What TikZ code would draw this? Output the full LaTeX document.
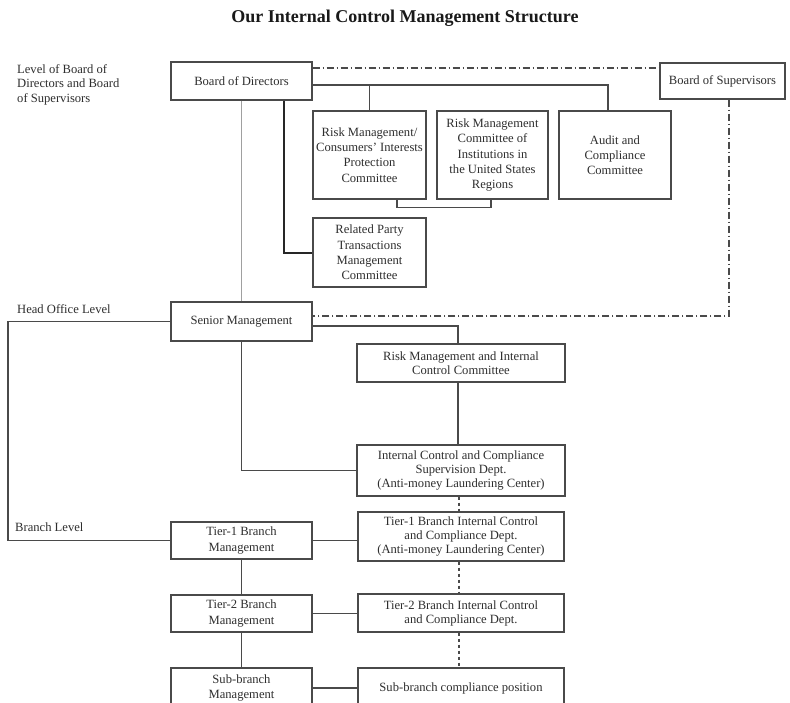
\documentclass[tikz,border=0pt]{standalone}
\usepackage{fontspec}
\setmainfont{Liberation Serif}
\definecolor{linec}{HTML}{4A4A4A}
\definecolor{textc}{HTML}{2E2E2E}
\definecolor{lightline}{HTML}{A0A0A0}
\tikzset{
  box/.style={draw=linec, line width=1.2pt, fill=white, align=center, inner sep=0pt,
    text=textc, font=\fontsize{12.6}{15.3}\selectfont},
  tightbox/.style={box, font=\fontsize{12.6}{14}\selectfont},
  conn/.style={draw=linec, line width=1.25pt},
  thickconn/.style={draw=black!85, line width=2pt},
  greyconn/.style={draw=lightline, line width=1.2pt},
  dashdotconn/.style={draw=linec, line width=1.2pt, dash pattern=on 7.5pt off 2.5pt on 1.5pt off 2.5pt},
  dashedconn/.style={draw=linec, line width=1.2pt, dash pattern=on 3pt off 3pt},
  lab/.style={text=textc, inner sep=0pt, align=left, font=\fontsize{12.6}{14.5}\selectfont},
  ttl/.style={text=black!90, inner sep=0pt, font=\bfseries\fontsize{18}{20}\selectfont}
}
\begin{document}
\begin{tikzpicture}[x=1pt,y=-1pt]
\clip (0,0) rectangle (790,702);
\fill[white] (0,0) rectangle (790,702);

\node[ttl] (title) at (405,18) {Our Internal Control Management Structure};

\node[lab, anchor=north west] (lvl) at (17,64) {Level of Board of\\Directors and Board\\of Supervisors};
\node[lab, anchor=west] (hol) at (17,309) {Head Office Level};
\node[lab, anchor=west] (brl) at (15,527) {Branch Level};

\node[box, minimum width=141pt, minimum height=38pt] (bod) at (241.5,81) {Board of Directors};
\node[box, minimum width=125pt, minimum height=36pt] (bos) at (722.5,81) {Board of Supervisors};
\node[box, minimum width=113pt, minimum height=88pt] (rmc) at (369.5,155) {Risk Management/\\Consumers’ Interests\\Protection\\Committee};
\node[box, minimum width=111pt, minimum height=88pt] (rmus) at (492.5,155) {Risk Management\\Committee of\\Institutions in\\the United States\\Regions};
\node[box, minimum width=112pt, minimum height=88pt] (audit) at (615,155) {Audit and\\Compliance\\Committee};
\node[box, minimum width=113pt, minimum height=69pt] (rpt) at (369.5,252.5) {Related Party\\Transactions\\Management\\Committee};
\node[box, minimum width=141pt, minimum height=39pt] (sm) at (241.5,321.5) {Senior Management};
\node[tightbox, minimum width=208pt, minimum height=38pt] (rmic) at (461,363) {Risk Management and Internal\\Control Committee};
\node[tightbox, minimum width=208pt, minimum height=51pt] (icsd) at (461,470.5) {Internal Control and Compliance\\Supervision Dept.\\(Anti-money Laundering Center)};
\node[box, minimum width=141pt, minimum height=37pt] (t1) at (241.5,540.5) {Tier-1 Branch\\Management};
\node[tightbox, minimum width=206pt, minimum height=49pt] (t1ic) at (461,536.5) {Tier-1 Branch Internal Control\\and Compliance Dept.\\(Anti-money Laundering Center)};
\node[box, minimum width=141pt, minimum height=37pt] (t2) at (241.5,613.5) {Tier-2 Branch\\Management};
\node[tightbox, minimum width=206pt, minimum height=38pt] (t2ic) at (461,613) {Tier-2 Branch Internal Control\\and Compliance Dept.};
\node[box, minimum width=141pt, minimum height=40pt] (sb) at (241.5,688) {Sub-branch\\Management};
\node[box, minimum width=206pt, minimum height=40pt] (sbc) at (461,688) {Sub-branch compliance position};

% Board level connectors
\draw[dashdotconn] (bod.east |- 0,68) -- (bos.west |- 0,68);
\draw[dashdotconn] (bos.south -| 729,0) |- (sm.east |- 0,316);
\draw[conn] (bod.east |- 0,85) -| (audit.north -| 608,0);
\draw[conn] (rmc.north |- 0,85) -- (rmc.north);
\draw[conn] (rmc.south -| 397,0) -- ++(0,8) -| (rmus.south -| 491,0);
\draw[thickconn] (bod.south -| 284,0) |- (rpt.west);
\draw[greyconn] (bod.south) -- (sm.north);

% Head office
\draw[conn] (sm.east |- 0,326) -| (rmic.north -| 458,0);
\draw[conn] (rmic.south -| 458,0) -- (icsd.north -| 458,0);
\draw[conn] (sm.south) |- (icsd.west);
\draw[conn] (sm.west) -| (8,430) |- (t1.west);

% Branch
\draw[conn] (t1.east) -- (t1ic.west |- t1.east);
\draw[conn] (t1.south) -- (t2.north);
\draw[conn] (t2.east) -- (t2ic.west |- t2.east);
\draw[conn] (t2.south) -- (sb.north);
\draw[conn] (sb.east) -- (sbc.west);
\draw[dashedconn] (icsd.south -| 459,0) -- (t1ic.north -| 459,0);
\draw[dashedconn] (t1ic.south -| 459,0) -- (t2ic.north -| 459,0);
\draw[dashedconn] (t2ic.south -| 459,0) -- (sbc.north -| 459,0);
\end{tikzpicture}
\end{document}
